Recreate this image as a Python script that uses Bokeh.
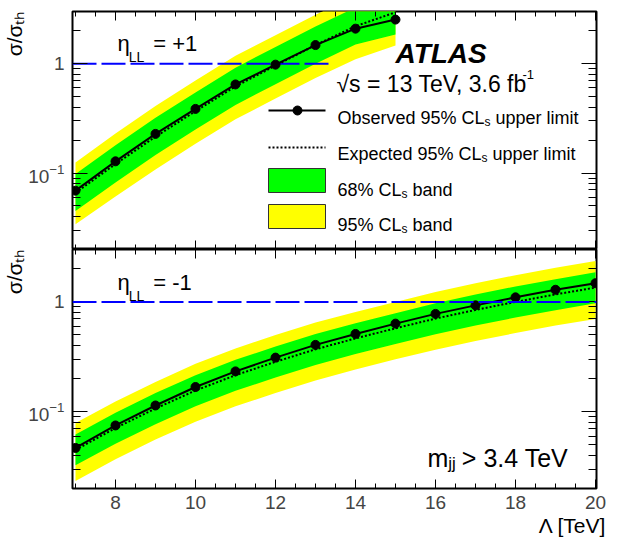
import math
from bokeh.plotting import figure
from bokeh.models import Range1d, LinearAxis, LogAxis, FixedTicker, Label, Span, Title
from bokeh.layouts import column
from bokeh.embed import file_html
from bokeh.resources import INLINE

# ---------------- data ----------------
lam_top = [7, 8, 9, 10, 11, 12, 13, 14, 15]
obs_top = [0.069, 0.128, 0.228, 0.386, 0.646, 0.98, 1.48, 2.09, 2.53]
exp_top = [0.066, 0.121, 0.215, 0.368, 0.62, 0.96, 1.48, 2.2, 2.95]
g_hi_top = [0.098, 0.18, 0.32, 0.545, 0.92, 1.42, 2.19, 3.26, 4.4]
g_lo_top = [0.045, 0.082, 0.146, 0.25, 0.42, 0.65, 1.0, 1.5, 1.85]
y_hi_top = [0.125, 0.23, 0.41, 0.70, 1.18, 1.82, 2.8, 4.2, 5.6]
y_lo_top = [0.034, 0.061, 0.108, 0.185, 0.31, 0.48, 0.74, 1.1, 1.47]

lam_bot = [7, 8, 9, 10, 11, 12, 13, 14, 15, 16, 17, 18, 19, 20]
obs_bot = [0.0468, 0.075, 0.114, 0.168, 0.233, 0.311, 0.406, 0.511, 0.634, 0.778, 0.93, 1.10, 1.29, 1.48]
exp_bot = [0.045, 0.071, 0.107, 0.156, 0.215, 0.285, 0.37, 0.465, 0.575, 0.705, 0.845, 1.0, 1.17, 1.35]
g_hi_bot = [0.062, 0.098, 0.148, 0.215, 0.297, 0.393, 0.51, 0.64, 0.79, 0.97, 1.17, 1.38, 1.61, 1.86]
g_lo_bot = [0.0325, 0.051, 0.077, 0.112, 0.155, 0.205, 0.266, 0.335, 0.414, 0.508, 0.61, 0.72, 0.84, 0.97]
y_hi_bot = [0.079, 0.124, 0.187, 0.273, 0.376, 0.50, 0.65, 0.81, 1.0, 1.23, 1.48, 1.75, 2.05, 2.36]
y_lo_bot = [0.0234, 0.037, 0.056, 0.081, 0.112, 0.148, 0.192, 0.242, 0.30, 0.367, 0.44, 0.52, 0.61, 0.70]

theory_level = 1.0
top_line_end = 13.4

x_major = [8, 10, 12, 14, 16, 18, 20]
x_minor = [7 + 0.5 * i for i in range(27)]
y_major = [0.1, 1]
y_minor = [0.02, 0.03, 0.04, 0.05, 0.06, 0.07, 0.08, 0.09,
           0.2, 0.3, 0.4, 0.5, 0.6, 0.7, 0.8, 0.9, 2, 3]

XR = (6.925, 20.025)
YR = (0.02, 3.0)

# ---------------- layout ----------------
FONT = "Liberation Sans"
W_FIG = 612
BL, BR = 72, 16
FL = BL
FW = W_FIG - BL - BR
TOP1, H1 = 11, 238
TOP2, H2 = 249, 239
BOT2 = 54

YELLOW = "#ffff00"
GREEN = "#00ff00"
BLUE = "#0000ff"


def X(px):
    return XR[0] + (px - FL) * (XR[1] - XR[0]) / FW


def Y(py, top, h):
    l0, l1 = math.log10(YR[0]), math.log10(YR[1])
    return 10 ** (l1 - (py - top) * (l1 - l0) / h)


WID = {' ': 278, '.': 278, ',': 278, '%': 889, '=': 584, '+': 584, '-': 333, '>': 584,
       '/': 278, '[': 278, ']': 278, 'A': 667, 'C': 722, 'E': 667, 'L': 556, 'O': 778,
       'T': 611, 'V': 667, 'a': 556, 'b': 556, 'c': 500, 'd': 556, 'e': 556, 'f': 278,
       'h': 556, 'i': 222, 'j': 222, 'l': 222, 'm': 833, 'n': 556, 'p': 556, 'r': 333,
       's': 500, 't': 278, 'u': 556, 'v': 500, 'x': 500, 'η': 556, '√': 549}


def tw(s, size):
    return sum(WID.get(c, 556) for c in s) / 1000.0 * size


def rich(p, x_px, base_py, top, h, parts, style="normal"):
    """parts: (text, size_px, baseline shift px (down +), gap before px)"""
    x = x_px
    for text, size, dy, gap in parts:
        x += gap
        p.add_layout(Label(x=X(x), y=Y(base_py + dy, top, h), text=text,
                           text_font=FONT, text_font_size=f"{size}px",
                           text_font_style=style, text_color="black",
                           text_align="left", text_baseline="alphabetic"))
        x += tw(text, size)


def make_fig(height, top_border, bottom_border):
    p = figure(width=W_FIG, height=height, y_axis_type="log",
               x_range=Range1d(*XR), y_range=Range1d(*YR),
               min_border_left=BL, min_border_right=BR,
               min_border_top=top_border, min_border_bottom=bottom_border,
               toolbar_location=None, output_backend="svg")
    p.grid.visible = False
    p.outline_line_color = "black"
    p.outline_line_width = 2
    p.background_fill_color = "white"
    p.border_fill_color = "white"
    return p


def tick_style(ax, maj, mnr):
    ax.axis_line_color = None
    ax.major_tick_out = 0
    ax.minor_tick_out = 0
    ax.major_tick_in = maj
    ax.minor_tick_in = mnr
    ax.major_tick_line_color = "black"
    ax.minor_tick_line_color = "black"
    ax.major_tick_line_width = 1
    ax.minor_tick_line_width = 1


def side_title(p, text, side, size, offset=0):
    p.add_layout(Title(text=text, align="right", text_font=FONT,
                       text_font_size=f"{size}px", text_font_style="normal",
                       text_color="black", standoff=0, offset=offset), side)


def setup_axes(p, label_x):
    xt = FixedTicker(ticks=x_major, minor_ticks=x_minor)
    yt = FixedTicker(ticks=y_major, minor_ticks=y_minor)
    # left axis (labelled)
    la = p.yaxis[0]
    la.ticker = yt
    tick_style(la, 15, 8)
    la.major_label_overrides = {1: "1"}
    la.major_label_text_font = FONT
    la.major_label_text_font_size = "19px"
    la.major_label_standoff = 8
    # bottom axis
    ba = p.xaxis[0]
    ba.ticker = xt
    tick_style(ba, 9, 5)
    if label_x:
        ba.major_label_text_font = FONT
        ba.major_label_text_font_size = "19px"
        ba.major_label_standoff = 7
    else:
        ba.fixed_location = YR[0]
        ba.major_label_text_color = None
    # top axis
    ta = LinearAxis(ticker=FixedTicker(ticks=x_major, minor_ticks=x_minor),
                    fixed_location=YR[1])
    tick_style(ta, 9, 5)
    ta.major_label_text_color = None
    p.add_layout(ta, "above")
    # right axis
    ra = LogAxis(ticker=FixedTicker(ticks=y_major, minor_ticks=y_minor),
                 fixed_location=XR[1])
    tick_style(ra, 15, 8)
    ra.major_label_text_color = None
    p.add_layout(ra, "right")
    side_title(p, "σ/σₜₕ", "left", 21)
    if label_x:
        side_title(p, "Λ [TeV]", "below", 21, offset=-10)


def draw_bands(p, lam, glo, ghi, ylo, yhi):
    p.varea(x=lam, y1=ylo, y2=yhi, fill_color=YELLOW)
    p.varea(x=lam, y1=glo, y2=ghi, fill_color=GREEN)


def draw_lines(p, lam, obs, exp):
    p.line(lam, exp, line_color="black", line_width=2, line_dash="2 2")
    p.line(lam, obs, line_color="black", line_width=2)
    p.scatter(lam, obs, size=9, color="black")


# ---------------- top panel ----------------
p1 = make_fig(TOP1 + H1, TOP1, 0)
setup_axes(p1, False)
draw_bands(p1, lam_top, g_lo_top, g_hi_top, y_lo_top, y_hi_top)
p1.segment(x0=[XR[0]], x1=[top_line_end], y0=[theory_level], y1=[theory_level],
           line_color=BLUE, line_width=2, line_dash="24 5")
draw_lines(p1, lam_top, obs_top, exp_top)

# legend
leg_x0, leg_x1, leg_xm = 268, 325, 297
p1.line([X(leg_x0), X(leg_x1)], [Y(110, TOP1, H1)] * 2, line_color="black", line_width=2)
p1.scatter([X(leg_xm)], [Y(110, TOP1, H1)], size=9, color="black")
p1.line([X(leg_x0), X(leg_x1)], [Y(147, TOP1, H1)] * 2, line_color="black", line_width=2, line_dash="2 2")
p1.quad(left=[X(leg_x0)], right=[X(leg_x1)], top=[Y(168, TOP1, H1)], bottom=[Y(192, TOP1, H1)],
        fill_color=GREEN, line_color="#333333", line_width=1)
p1.quad(left=[X(leg_x0)], right=[X(leg_x1)], top=[Y(204, TOP1, H1)], bottom=[Y(228, TOP1, H1)],
        fill_color=YELLOW, line_color="#333333", line_width=1)

LS, SS = 18, 12
SP = tw(" ", LS)
rich(p1, 337, 117, TOP1, H1, [("Observed 95% CL", LS, 0, 0), ("s", SS, 4, 0), ("upper limit", LS, 0, SP)])
rich(p1, 337, 153, TOP1, H1, [("Expected 95% CL", LS, 0, 0), ("s", SS, 4, 0), ("upper limit", LS, 0, SP)])
rich(p1, 337, 189, TOP1, H1, [("68% CL", LS, 0, 0), ("s", SS, 4, 0), ("band", LS, 0, SP)])
rich(p1, 337, 224, TOP1, H1, [("95% CL", LS, 0, 0), ("s", SS, 4, 0), ("band", LS, 0, SP)])

rich(p1, 395, 53, TOP1, H1, [("ATLAS", 28, 0, 0)], style="bold italic")
rich(p1, 336, 83, TOP1, H1, [("√s = 13 TeV, 3.6 fb", 23, 0, 0)])
rich(p1, 522, 74, TOP1, H1, [("-1", 13, 0, 0)])
rich(p1, 117, 43, TOP1, H1, [("η", 22, 0, 0), ("LL", 14, 13, -1), ("= +1", 22, 0, 9)])

# ---------------- bottom panel ----------------
p2 = make_fig(H2 + BOT2, 0, BOT2)
setup_axes(p2, True)
draw_bands(p2, lam_bot, g_lo_bot, g_hi_bot, y_lo_bot, y_hi_bot)
p2.add_layout(Span(location=theory_level, dimension="width", line_color=BLUE,
                   line_width=2, line_dash="24 5"))
draw_lines(p2, lam_bot, obs_bot, exp_bot)

rich(p2, 117, 282, TOP2, H2, [("η", 22, 0, 0), ("LL", 14, 13, -1), ("= -1", 22, 0, 9)])
rich(p2, 427, 457, TOP2, H2, [("m", 25, 0, 0), ("jj", 17, 6, 0), ("> 3.4 TeV", 25, 0, 6)])

layout = column(p1, p2, spacing=0)
open("out.html", "w").write(file_html(layout, INLINE))
